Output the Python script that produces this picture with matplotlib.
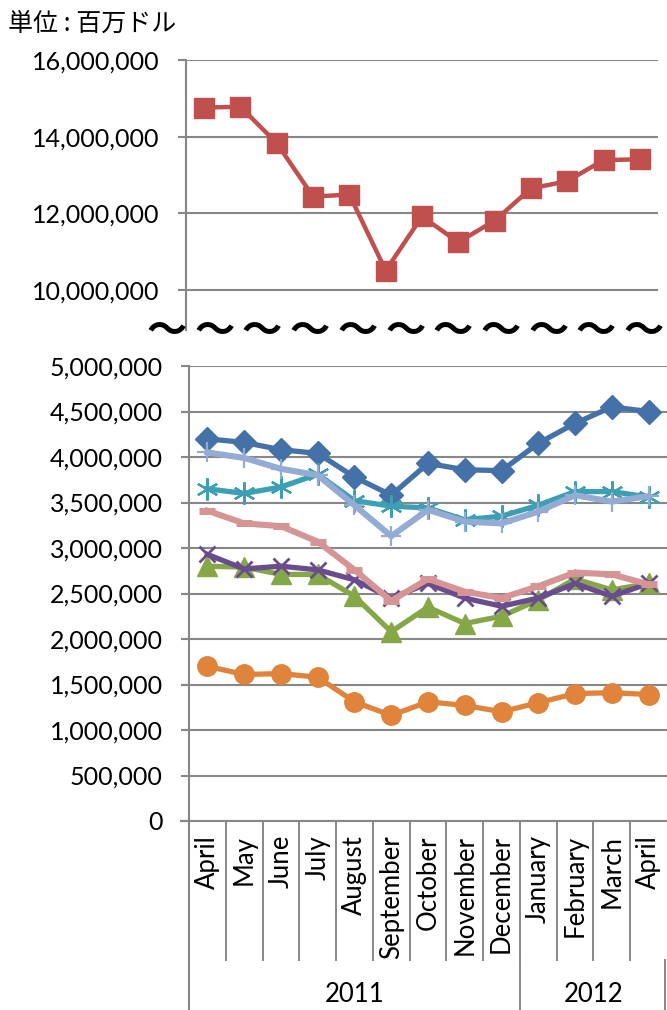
import matplotlib
matplotlib.use("Agg")
import matplotlib.pyplot as plt

plt.rcParams['font.family'] = ['Lato', 'Noto Sans CJK JP', 'DejaVu Sans']

# データ（単位：百万ドル）
months = ['April', 'May', 'June', 'July', 'August', 'September', 'October',
          'November', 'December', 'January', 'February', 'March', 'April']
years = ['2011', '2012']
year_span = [(0, 8), (9, 12)]

s_red = [14760000, 14780000, 13830000, 12440000, 12490000, 10510000, 11920000,
         11250000, 11810000, 12650000, 12840000, 13390000, 13410000]
s_blue = [4200000, 4160000, 4080000, 4040000, 3780000, 3580000, 3930000,
          3860000, 3850000, 4150000, 4370000, 4550000, 4500000]
s_green = [2800000, 2790000, 2710000, 2710000, 2470000, 2080000, 2350000,
           2170000, 2250000, 2430000, 2660000, 2540000, 2610000]
s_purple = [2930000, 2770000, 2800000, 2760000, 2650000, 2450000, 2610000,
            2450000, 2360000, 2450000, 2610000, 2470000, 2610000]
s_teal = [3650000, 3600000, 3670000, 3810000, 3520000, 3460000, 3440000,
          3310000, 3350000, 3470000, 3620000, 3620000, 3560000]
s_orange = [1700000, 1610000, 1620000, 1580000, 1310000, 1160000, 1310000,
            1270000, 1200000, 1300000, 1400000, 1410000, 1390000]
s_lightblue = [4050000, 3990000, 3870000, 3800000, 3470000, 3130000, 3420000,
               3290000, 3270000, 3400000, 3580000, 3510000, 3570000]
s_pink = [3410000, 3270000, 3240000, 3070000, 2760000, 2420000, 2660000,
          2520000, 2450000, 2580000, 2730000, 2710000, 2600000]

top_ticks = [10000000, 12000000, 14000000, 16000000]
bottom_ticks = list(range(0, 5000001, 500000))

GRID = '#878787'
x = list(range(len(months)))

fig = plt.figure(figsize=(6.67, 10.10), dpi=100)
W, H = 667, 1010


def box(l, t, r, b):
    return [l / W, 1 - b / H, (r - l) / W, (b - t) / H]


def style(ax, ticks):
    ax.set_yticks(ticks)
    ax.set_yticklabels([f'{v:,}' for v in ticks], fontsize=18)
    ax.yaxis.grid(True, color=GRID, lw=1.5)
    ax.set_axisbelow(True)
    ax.tick_params(axis='y', length=6, width=1.5, color=GRID, pad=13)
    ax.tick_params(axis='x', bottom=False, labelbottom=False)
    for s in ['top', 'right']:
        ax.spines[s].set_visible(False)
    ax.spines['left'].set_color(GRID)
    ax.spines['left'].set_linewidth(1.5)
    ax.set_xlim(-0.5, 12.5)


# 上段
ax1 = fig.add_axes(box(186, 60, 658, 330))
style(ax1, top_ticks)
ax1.set_ylim(8960000, 16000000)
ax1.spines['bottom'].set_visible(False)
ax1.plot(x, s_red, color='#C0504D', lw=3.2, marker='s', ms=14, clip_on=False)

# 下段
ax2 = fig.add_axes(box(189, 366, 667, 821))
style(ax2, bottom_ticks)
ax2.set_ylim(0, 5000000)
ax2.spines['bottom'].set_color(GRID)
ax2.spines['bottom'].set_linewidth(1.5)

lw = 3.8
ax2.plot(x, s_blue, color='#4471A7', lw=lw, marker='D', ms=12, clip_on=False)
ax2.plot(x, s_green, color='#86A748', lw=lw, marker='^', ms=15, clip_on=False)
ax2.plot(x, s_purple, color='#6A4C8E', lw=lw, marker='x', ms=12, mew=2, clip_on=False)
ax2.plot(x, s_teal, color='#3C9FB3', lw=lw, marker=(6, 2, 0), ms=16, mew=1.6, clip_on=False)
ax2.plot(x, s_orange, color='#E0843C', lw=lw, marker='o', ms=14, clip_on=False)
ax2.plot(x, s_lightblue, color='#94ABD4', lw=4.4, marker='+', ms=15, mew=1.6, clip_on=False)
ax2.plot(x, s_pink, color='#D69594', lw=4.4, marker='_', ms=12, mew=5, clip_on=False)

# 軸ラベル（多段）
tr = ax2.get_xaxis_transform()
sep_low = -139 / 455
sep_bot = -189 / 455
for i in range(len(months) - 1):
    ax2.plot([i + 0.5, i + 0.5], [0, sep_low], color=GRID, lw=1.4,
             transform=tr, clip_on=False)
ax2.plot([-0.5, -0.5], [0, sep_bot], color=GRID, lw=1.5, transform=tr, clip_on=False)
ax2.plot([8.5, 8.5], [sep_low, sep_bot], color=GRID, lw=1.4, transform=tr, clip_on=False)
ax2.plot([12.45, 12.45], [sep_low, sep_bot], color=GRID, lw=1.4, transform=tr, clip_on=False)
ax2.plot([-0.5, -0.72], [0, 0], color=GRID, lw=1.5, transform=tr, clip_on=False)

for i, m in enumerate(months):
    ax2.text(i, -14 / 455, m, rotation=90, ha='center', va='top', fontsize=18.5,
             transform=tr)
for yr, (a, b) in zip(years, year_span):
    ax2.text((a + b) / 2, -174 / 455, yr, ha='center', va='center', fontsize=18.5,
             transform=tr)

# 省略記号
for k in range(11):
    fig.text((166.7 + k * 47.7) / W, 1 - 331.5 / H, '〜', fontsize=29,
             fontweight='bold', family=['Noto Sans CJK JP', 'DejaVu Sans'],
             ha='center', va='center')

fig.text(8 / W, 1 - 24 / H, '単位 : 百万ドル', fontsize=18, ha='left', va='center',
         family=['Noto Sans CJK JP', 'DejaVu Sans'])

fig.savefig('out.png', dpi=100)
